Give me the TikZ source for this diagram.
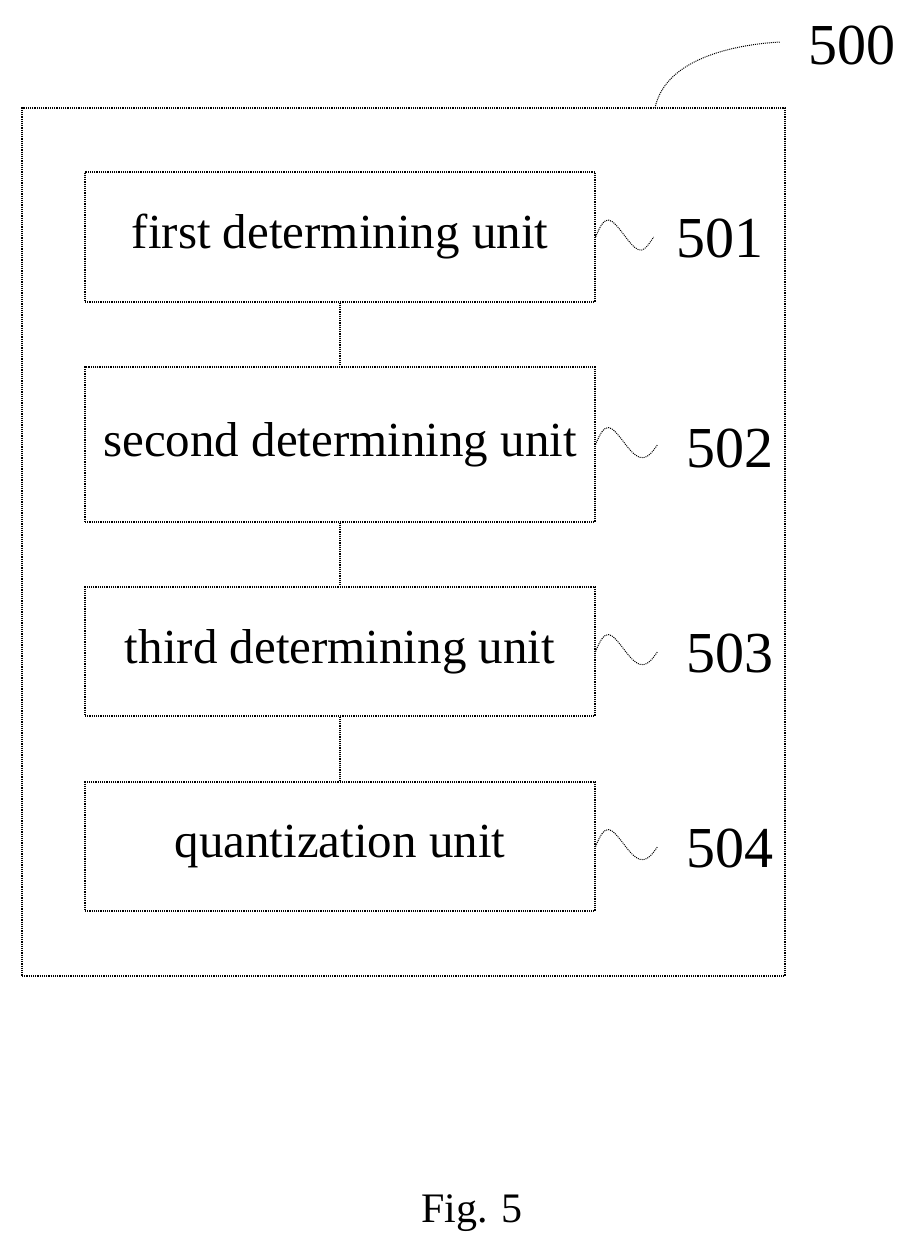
\documentclass[tikz,border=0pt]{standalone}
\usepackage{fontspec}
\setmainfont{Liberation Serif}
\usetikzlibrary{positioning}

\begin{document}
\begin{tikzpicture}[
        x=1pt,
        y=-1pt,
        every node/.style={font=\fontsize{42}{48}\selectfont},
        unit/.style={draw, densely dotted, line width=1.2pt, minimum width=510pt, inner sep=0pt, font=\fontsize{49}{56}\selectfont},
        link/.style={densely dotted, line width=1.2pt},
        wave/.style={densely dotted, line width=1pt},
        ref/.style={font=\fontsize{58}{64}\selectfont, anchor=west}
    ]
    \useasboundingbox (0,0) rectangle (918,1257);
    \node[draw, densely dotted, line width=1.2pt, minimum width=763pt, minimum height=868pt] (frame) at (403.5,542) {};
    \node[unit, minimum height=130pt] (first) at (340,237) {first determining unit};
    \node[unit, minimum height=155pt] (second) at (340,444.5) {second determining unit};
    \node[unit, minimum height=129pt] (third) at (340,651.5) {third determining unit};
    \node[unit, minimum height=129pt] (quant) at (340,846.5) {quantization unit};
    \draw[link] (first) -- (second);
    \draw[link] (second) -- (third);
    \draw[link] (third) -- (quant);
    % reference numerals
    \node[ref] (n500) at (805,45) {500};
    \node[ref] (n501) at (673,238) {501};
    \node[ref] (n502) at (683,448) {502};
    \node[ref] (n503) at (683,653) {503};
    \node[ref] (n504) at (683,848) {504};
    \draw[wave] (655,108) .. controls (665,60) and (730,45) .. (780,42);
    \draw[wave] (first.east) .. controls +(10,-25) and +(-15,-20) .. +(30,0) .. controls +(15,20) and +(-10,15) .. +(58,0);
    \draw[wave] (second.east) .. controls +(10,-25) and +(-15,-20) .. +(30,0) .. controls +(15,20) and +(-10,15) .. +(62,0);
    \draw[wave] (third.east) .. controls +(10,-25) and +(-15,-20) .. +(30,0) .. controls +(15,20) and +(-10,15) .. +(62,0);
    \draw[wave] (quant.east) .. controls +(10,-25) and +(-15,-20) .. +(30,0) .. controls +(15,20) and +(-10,15) .. +(62,0);
    \node (caption) at (472,1213) {Fig. 5};
\end{tikzpicture}
\end{document}
